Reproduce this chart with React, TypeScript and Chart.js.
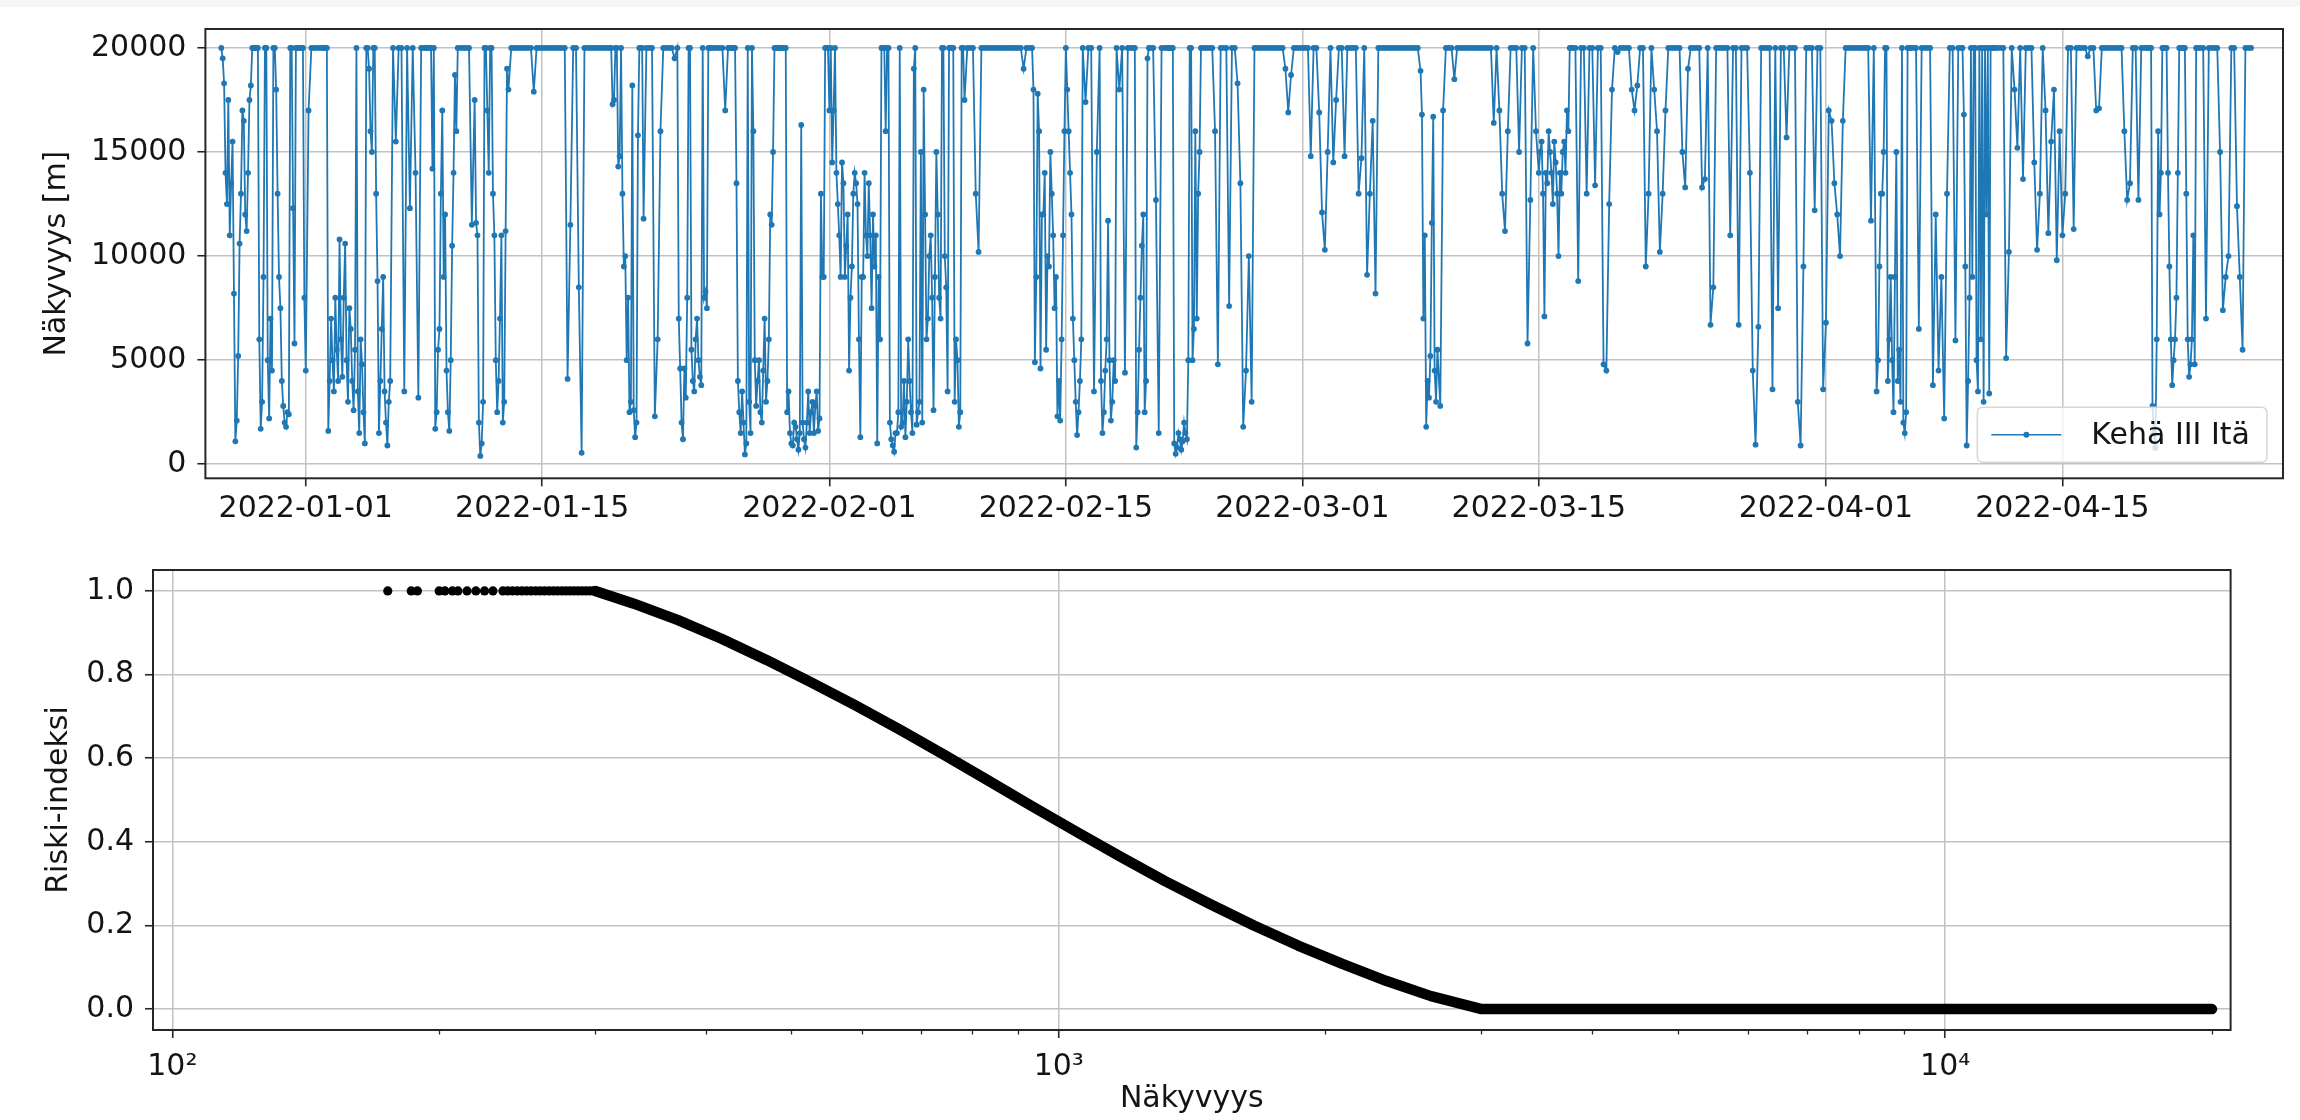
import React, { useEffect, useRef } from "react";
import { Chart, registerables } from "chart.js";

Chart.register(...registerables);

// ---------- top chart data ----------
// One inner list per day, starting 2021-12-27 (UTC). A day with 6 readings is sampled
// every 4 h, a day with 12 readings every 2 h (the last, partial day every 4 h).
const SERIES_LABEL = "Kehä III Itä";
const SERIES_START = "2021-12-27T00:00:00Z";

const visDec = [
  [20000, 19500, 18300, 14000, 12500, 17500, 11000, 13500, 15500, 8200, 1100, 2100],
  [5200, 10600, 13000, 17000, 16500, 12000, 11200, 14000, 17500, 18200, 20000, 20000],
  [20000, 20000, 20000, 6000, 1700, 3000, 9000, 20000, 20000, 5000, 2200, 7000],
  [4500, 20000, 20000, 18000, 13000, 9000, 7500, 4000, 2800, 2000, 1800, 2500],
  [2400, 20000, 20000, 12300, 5800, 20000, 20000, 20000, 20000, 20000, 20000, 8000],
];

const visJan = [
  [4500, 17000, 20000, 20000, 20000, 20000],
  [20000, 20000, 20000, 20000, 1600, 4000, 7000, 5000, 3500, 8000, 5500, 4000],
  [10800, 6000, 4200, 8000, 10600, 5000, 3000, 7500, 6500, 4000, 2600, 5500],
  [20000, 3500, 1500, 6000, 4800, 2500, 1000, 20000, 20000, 19000, 16000, 15000],
  [20000, 20000, 13000, 8800, 1500, 4000, 6500, 9000, 3500, 2000, 900, 3000],
  [4000, 20000, 15500, 20000, 20000, 3500],
  [20000, 12300, 20000, 14000, 3200, 20000],
  [20000, 20000, 20000, 20000, 20000, 20000, 14200, 20000, 1700, 2500, 5500, 6500],
  [13000, 17000, 9000, 12000, 4500, 2500, 1600, 5000, 10500, 14000, 18700, 16000],
  [20000, 20000, 20000, 20000, 20000, 11500],
  [17500, 11600, 11000, 2000, 400, 1000, 3000, 20000, 20000, 17000, 14000, 20000],
  [20000, 13000, 11000, 5000, 2500, 4000, 7000, 11000, 2000, 3000, 11200, 19000],
  [18000, 20000, 20000, 20000, 20000, 20000],
  [20000, 20000, 20000, 17900, 20000, 20000],
  [20000, 20000, 20000, 20000, 20000, 20000],
  [20000, 20000, 20000, 4100, 11500, 20000],
  [20000, 8500, 550, 20000, 20000, 20000],
  [20000, 20000, 20000, 20000, 20000, 20000],
  [20000, 20000, 17300, 17500, 20000, 20000, 14300, 14800, 20000, 13000, 9500, 10000],
  [5000, 8000, 2500, 3000, 18200, 2600, 1300, 2000, 15800, 20000, 20000, 20000],
  [11800, 20000, 20000, 20000, 2300, 6000],
  [16000, 20000, 20000, 20000, 20000, 19500],
  [20000, 7000, 4600, 2000, 1200, 4600, 3200, 8000, 20000, 20000, 5500, 4000],
  [3500, 6000, 7000, 5000, 4200, 3800, 20000, 8000, 8300, 7500, 20000, 20000],
  [20000, 20000, 20000, 20000, 20000, 17000],
  [20000, 20000, 20000, 20000, 20000, 20000, 13500, 4000, 2500, 1500, 3500, 2000],
  [470, 1000, 20000, 3000, 1500, 20000, 16000, 5000, 2800, 4000, 5000, 2500],
  [2000, 4500, 7000, 3000, 4000, 6000, 12000, 11500, 15000, 20000, 20000, 20000],
  [20000, 20000, 20000, 20000, 20000, 20000, 2500, 3500, 1500, 1000, 900, 2000],
  [1800, 1200, 700, 1500, 16300, 2000, 1200, 800, 2000, 3500, 1500, 2500],
  [3000, 1500, 2800, 3500, 1600, 2200, 13000, 9000, 9000, 20000, 20000, 20000],
];

const visFeb = [
  [17000, 20000, 14500, 17000, 20000, 14000, 12500, 11000, 9000, 14500, 13500, 9000],
  [10500, 12000, 4500, 8000, 9500, 13000, 14000, 13500, 12500, 6000, 1300, 9000],
  [9000, 14000, 11000, 10000, 13500, 11000, 7500, 12000, 9500, 11000, 1000, 9000],
  [6000, 20000, 20000, 20000, 16000, 20000, 20000, 2000, 1200, 900, 600, 1500],
  [1500, 2500, 20000, 1800, 2000, 4000, 1300, 3000, 6000, 4000, 2500, 1500],
  [19000, 20000, 1900, 2500, 3000, 15000, 2000, 18000, 12000, 6000, 7000, 10000],
  [11000, 8000, 2600, 9000, 15000, 12000, 8000, 7000, 20000, 20000, 10000, 8500],
  [3500, 20000, 20000, 20000, 20000, 3000, 6000, 5000, 1800, 2500, 20000, 20000],
  [17500, 20000, 20000, 20000, 13000, 10200],
  [20000, 20000, 20000, 20000, 20000, 20000],
  [20000, 20000, 20000, 20000, 20000, 20000],
  [20000, 20000, 20000, 19000, 20000, 20000],
  [20000, 18000, 4900, 9000, 17800, 16000, 4600, 12000, 12000, 14000, 5500, 10000],
  [9500, 15000, 13000, 11000, 7500, 9000, 2300, 4000, 2100, 6000, 11000, 16000],
  [20000, 18000, 16000, 14000, 12000, 7000, 5000, 3000, 1400, 2500, 4000, 6000],
  [20000, 17400, 20000, 20000, 3500, 15000],
  [20000, 4000, 1500, 2500, 4500, 6000, 11700, 5000, 2100, 3000, 5000, 4000],
  [20000, 18000, 20000, 4400, 20000, 20000],
  [20000, 20000, 800, 2500, 5500, 8000, 10500, 12000, 2500, 4000, 19500, 20000],
  [20000, 20000, 12700, 1500, 20000, 20000],
  [20000, 20000, 20000, 20000, 20000, 1000, 500, 800, 1500, 1200, 700, 1100],
  [2000, 1500, 1200, 5000, 20000, 20000, 5000, 6500, 16000, 7000, 13000, 15000],
  [20000, 20000, 20000, 20000, 20000, 16000],
  [4800, 20000, 20000, 20000, 7600, 20000],
  [20000, 18300, 13500, 1800, 4500, 10000],
  [3000, 20000, 20000, 20000, 20000, 20000],
  [20000, 20000, 20000, 20000, 20000, 20000],
  [19000, 16900, 18700, 20000, 20000, 20000],
];

const visMar = [
  [20000, 20000, 20000, 14800, 20000, 20000],
  [16900, 12100, 10300, 15000, 20000, 14500],
  [17500, 20000, 20000, 14800, 20000, 20000],
  [20000, 20000, 13000, 14700, 20000, 9100],
  [13000, 16500, 8200, 20000, 20000, 20000],
  [20000, 20000, 20000, 20000, 20000, 20000],
  [20000, 20000, 20000, 20000, 20000, 20000],
  [18900, 16800, 7000, 11000, 1800, 4000, 3200, 5200, 11600, 16700, 4500, 3000],
  [5500, 2800, 17000, 20000, 20000, 20000],
  [18500, 20000, 20000, 20000, 20000, 20000],
  [20000, 20000, 20000, 20000, 20000, 20000],
  [20000, 20000, 16400, 20000, 17000, 13000],
  [11200, 16000, 20000, 20000, 20000, 15000],
  [20000, 20000, 5800, 12700, 20000, 16000],
  [14000, 15000, 15500, 13000, 7100, 14000, 13500, 16000, 15000, 14000, 12500, 15500],
  [14500, 13000, 10000, 14000, 13000, 15000, 15500, 14000, 17000, 16000, 20000, 20000],
  [20000, 20000, 8800, 20000, 20000, 13000],
  [20000, 20000, 13400, 20000, 20000, 4800],
  [4500, 12500, 18000, 20000, 19800, 20000],
  [20000, 20000, 20000, 18000, 17000, 18200],
  [20000, 20000, 9500, 13000, 20000, 18000],
  [16000, 10200, 13000, 17000, 20000, 20000],
  [20000, 20000, 20000, 15000, 13300, 19000],
  [20000, 20000, 20000, 20000, 13300, 13700],
  [20000, 6700, 8500, 20000, 20000, 20000],
  [20000, 20000, 11000, 20000, 20000, 6700],
  [20000, 20000, 20000, 14000, 4500, 940],
  [6600, 20000, 20000, 20000, 20000, 3600],
  [20000, 7500, 20000, 20000, 15700, 20000],
  [20000, 20000, 3000, 900, 9500, 20000],
  [20000, 20000, 12200, 20000, 20000, 3600],
];

const visApr = [
  [6800, 17000, 16500, 13500, 12000, 10000],
  [16500, 20000, 20000, 20000, 20000, 20000],
  [20000, 20000, 20000, 20000, 11700, 20000],
  [3500, 5000, 9500, 13000, 13000, 15000, 20000, 20000, 4000, 6000, 9000, 5000],
  [2500, 9000, 15000, 4000, 5500, 3000, 20000, 2000, 1500, 2500, 20000, 20000],
  [20000, 20000, 20000, 6500, 20000, 20000],
  [20000, 20000, 3800, 12000, 4500, 9000],
  [2200, 13000, 20000, 20000, 5950, 20000],
  [20000, 20000, 16800, 9500, 900, 4000, 8000, 20000, 9000, 20000, 20000, 5000],
  [3500, 20000, 6000, 20000, 3000, 20000, 12000, 20000, 3400, 20000, 20000, 20000],
  [20000, 20000, 20000, 20000, 5100, 10200],
  [20000, 18000, 15200, 20000, 13700, 20000],
  [20000, 20000, 14500, 10300, 13000, 20000],
  [17000, 11100, 15500, 18000, 9800, 16000],
  [11000, 13000, 20000, 20000, 11300, 20000],
  [20000, 20000, 20000, 19600, 20000, 20000],
  [17000, 17100, 20000, 20000, 20000, 20000],
  [20000, 20000, 20000, 20000, 16000, 12700],
  [13500, 20000, 20000, 12700, 20000, 20000],
  [20000, 20000, 20000, 20000, 2800, 1500, 780, 6000, 16000, 12000, 14000, 20000],
  [20000, 20000, 20000, 14000, 9500, 6000, 3800, 5000, 6000, 8000, 14000, 20000],
  [20000, 20000, 20000, 20000, 13000, 6000, 4200, 4800, 6000, 11000, 4800, 20000],
  [20000, 20000, 20000, 7000, 20000, 20000],
  [20000, 20000, 15000, 7400, 9000, 10000],
  [20000, 20000, 12400, 9000, 5500, 20000],
  [20000, 20000],
];

const dateTickLabels = [
  "2022-01-01", "2022-01-15", "2022-02-01", "2022-02-15",
  "2022-03-01", "2022-03-15", "2022-04-01", "2022-04-15",
];
const dateAxisRange = ["2021-12-26T01:25:00Z", "2022-04-28T01:25:00Z"];
const visTicks = [0, 5000, 10000, 15000, 20000];
const visAxisRange = [-675, 20910];

// ---------- bottom chart data (risk index vs visibility) ----------
const riskFlatVis = [
  175, 186, 189, 200, 203, 207, 210, 215, 220, 225, 230, 236, 239, 242, 245,
  248, 251, 254, 257, 260, 263, 266, 269, 272, 275, 278, 281, 284, 287, 290,
  293, 296, 299,
];
const riskFlatVal = riskFlatVis.map(() => 1.0);

const riskCurveVis = [
  300, 331, 372, 417, 468, 525, 589, 661, 741, 832, 933, 1047, 1175, 1318,
  1479, 1660, 1862, 2089, 2344, 2630, 3000,
  3500, 4500, 6000, 8000, 10000, 13000, 16000, 20000,
];
const riskCurveVal = [
  1.0, 0.97, 0.93, 0.885, 0.835, 0.782, 0.727, 0.669, 0.609, 0.547, 0.485, 0.424, 0.364, 0.306,
  0.252, 0.2, 0.152, 0.108, 0.067, 0.031, 0.0,
  0.0, 0.0, 0.0, 0.0, 0.0, 0.0, 0.0, 0.0,
];

const logMajorTicks = [100, 1000, 10000];
const logMinorTicks = [
  200, 300, 400, 500, 600, 700, 800, 900,
  2000, 3000, 4000, 5000, 6000, 7000, 8000, 9000,
  20000,
];
const logAxisRange = [95.1, 20990];
const riskTicks = [0, 0.2, 0.4, 0.6, 0.8, 1.0];
const riskAxisRange = [-0.05, 1.05];

// ---------- styles ----------
const FONT_FAMILY = "'DejaVu Sans', 'Liberation Sans', sans-serif";
const FONT_SIZE = 30;
const TEXT = "#141414";
const GRID = "#c2c2c2";
const FRAME = "#262626";
const BLUE = "#1f77b4";
const SUP: Record<string, string> = { "0": "⁰", "1": "¹", "2": "²", "3": "³", "4": "⁴", "5": "⁵" };

const framePlugin = {
  id: "frame",
  afterDraw(chart: any) {
    const { ctx, chartArea: a } = chart;
    ctx.save();
    ctx.strokeStyle = FRAME;
    ctx.lineWidth = 2;
    ctx.strokeRect(a.left, a.top, a.right - a.left, a.bottom - a.top);
    ctx.restore();
  },
};

const insideLegendPlugin = {
  id: "insideLegend",
  afterDatasetsDraw(chart: any) {
    const ds = chart.data.datasets[0];
    const { ctx, chartArea: a } = chart;
    ctx.save();
    ctx.font = `${FONT_SIZE}px ${FONT_FAMILY}`;
    const tw = ctx.measureText(ds.label).width;
    const padL = 14, handle = 70, gap = 30, padR = 17, h = 55;
    const w = padL + handle + gap + tw + padR;
    const x = a.right - 16 - w;
    const y = a.bottom - 16 - h;
    const r = 6;
    ctx.beginPath();
    ctx.moveTo(x + r, y);
    ctx.lineTo(x + w - r, y);
    ctx.quadraticCurveTo(x + w, y, x + w, y + r);
    ctx.lineTo(x + w, y + h - r);
    ctx.quadraticCurveTo(x + w, y + h, x + w - r, y + h);
    ctx.lineTo(x + r, y + h);
    ctx.quadraticCurveTo(x, y + h, x, y + h - r);
    ctx.lineTo(x, y + r);
    ctx.quadraticCurveTo(x, y, x + r, y);
    ctx.closePath();
    ctx.fillStyle = "rgba(255,255,255,0.8)";
    ctx.fill();
    ctx.strokeStyle = "#d6d6d6";
    ctx.lineWidth = 1.5;
    ctx.stroke();
    const cy = y + h / 2;
    ctx.strokeStyle = ds.borderColor;
    ctx.lineWidth = 1.5;
    ctx.beginPath();
    ctx.moveTo(x + padL, cy);
    ctx.lineTo(x + padL + handle, cy);
    ctx.stroke();
    ctx.fillStyle = ds.pointBackgroundColor;
    ctx.beginPath();
    ctx.arc(x + padL + handle / 2, cy, 3, 0, Math.PI * 2);
    ctx.fill();
    ctx.fillStyle = TEXT;
    ctx.textBaseline = "middle";
    ctx.textAlign = "left";
    ctx.fillText(ds.label, x + padL + handle + gap, cy + 1);
    ctx.restore();
  },
};

const font = { family: FONT_FAMILY, size: FONT_SIZE };

function makeTopConfig(): any {
  const days = [...visDec, ...visJan, ...visFeb, ...visMar, ...visApr];
  const t0 = Date.parse(SERIES_START);
  const DAY = 86400000;
  const data: { x: number; y: number }[] = [];
  days.forEach((vals, d) => {
    const step = DAY / Math.max(6, vals.length);
    vals.forEach((v, k) => data.push({ x: t0 + d * DAY + k * step, y: v }));
  });
  const tickValues = dateTickLabels.map((s) => Date.parse(s + "T00:00:00Z"));
  return {
    type: "line",
    data: {
      datasets: [
        {
          label: SERIES_LABEL,
          data,
          borderColor: BLUE,
          borderWidth: 1.8,
          pointRadius: 2.9,
          pointBorderWidth: 0,
          pointBackgroundColor: BLUE,
          pointHoverRadius: 0,
          tension: 0,
        },
      ],
    },
    options: {
      responsive: false,
      animation: false,
      events: [],
      layout: { padding: { left: 0, top: 20, right: 17, bottom: 0 } },
      plugins: { legend: { display: false }, tooltip: { enabled: false } },
      scales: {
        x: {
          type: "linear",
          bounds: "data",
          min: Date.parse(dateAxisRange[0]),
          max: Date.parse(dateAxisRange[1]),
          afterBuildTicks: (s: any) => {
            s.ticks = tickValues.map((v) => ({ value: v }));
          },
          afterFit: (s: any) => {
            s.height = 61.7;
          },
          ticks: {
            autoSkip: false,
            maxRotation: 0,
            font,
            color: TEXT,
            padding: 5,
            callback: (_v: any, i: number) => dateTickLabels[i],
          },
          grid: { color: GRID, lineWidth: 1.5, tickColor: FRAME, tickLength: 8, tickWidth: 1.6 },
          border: { display: false },
        },
        y: {
          type: "linear",
          bounds: "data",
          min: visAxisRange[0],
          max: visAxisRange[1],
          afterBuildTicks: (s: any) => {
            s.ticks = visTicks.map((v) => ({ value: v }));
          },
          afterFit: (s: any) => {
            s.width = 205.4;
          },
          ticks: { font, color: TEXT, padding: 11, callback: (v: any) => String(v) },
          grid: { color: GRID, lineWidth: 1.5, tickColor: FRAME, tickLength: 8, tickWidth: 1.6 },
          border: { display: false },
          title: {
            display: true,
            text: "Näkyvyys [m]",
            font,
            color: TEXT,
            padding: { top: 39, bottom: 0 },
          },
        },
      },
    },
    plugins: [insideLegendPlugin, framePlugin],
  };
}

function makeBottomConfig(): any {
  const flat = riskFlatVis.map((v, i) => ({ x: v, y: riskFlatVal[i] }));
  const curve = riskCurveVis.map((v, i) => ({ x: v, y: riskCurveVal[i] }));
  return {
    type: "scatter",
    data: {
      datasets: [
        {
          label: "Riski-indeksi (1.0)",
          data: flat,
          showLine: false,
          pointRadius: 4.6,
          pointBorderWidth: 0,
          pointBackgroundColor: "#000000",
          pointHoverRadius: 0,
        },
        {
          label: "Riski-indeksi",
          data: curve,
          showLine: true,
          borderColor: "#000000",
          borderWidth: 10.5,
          borderCapStyle: "round",
          borderJoinStyle: "round",
          pointRadius: 0,
          pointHoverRadius: 0,
        },
      ],
    },
    options: {
      responsive: false,
      animation: false,
      events: [],
      layout: { padding: { left: 0, top: 30, right: 69.4, bottom: 0 } },
      plugins: { legend: { display: false }, tooltip: { enabled: false } },
      scales: {
        x: {
          type: "logarithmic",
          position: "bottom",
          weight: 1,
          bounds: "data",
          min: logAxisRange[0],
          max: logAxisRange[1],
          afterBuildTicks: (s: any) => {
            s.ticks = logMajorTicks.map((v) => ({ value: v, major: true }));
          },
          afterFit: (s: any) => {
            s.height = 90;
          },
          ticks: {
            autoSkip: false,
            maxRotation: 0,
            font,
            color: TEXT,
            padding: 11,
            callback: (v: any) => {
              const e = String(Math.round(Math.log10(v)));
              return "10" + e.split("").map((c) => SUP[c]).join("");
            },
          },
          grid: { color: GRID, lineWidth: 1.5, tickColor: FRAME, tickLength: 8, tickWidth: 1.6 },
          border: { display: false },
          title: {
            display: true,
            text: "Näkyvyys",
            font,
            color: TEXT,
            padding: { top: 0, bottom: 3 },
          },
        },
        xMinor: {
          type: "logarithmic",
          position: "bottom",
          weight: 0,
          bounds: "data",
          min: logAxisRange[0],
          max: logAxisRange[1],
          afterBuildTicks: (s: any) => {
            s.ticks = logMinorTicks.map((v) => ({ value: v }));
          },
          afterFit: (s: any) => {
            s.height = 0;
          },
          ticks: { display: false, autoSkip: false },
          grid: {
            drawOnChartArea: false,
            drawTicks: true,
            tickColor: FRAME,
            tickLength: 4.5,
            tickWidth: 1.3,
          },
          border: { display: false },
        },
        y: {
          type: "linear",
          bounds: "data",
          min: riskAxisRange[0],
          max: riskAxisRange[1],
          afterBuildTicks: (s: any) => {
            s.ticks = riskTicks.map((v) => ({ value: v }));
          },
          afterFit: (s: any) => {
            s.width = 153;
          },
          ticks: { font, color: TEXT, padding: 11, callback: (v: any) => Number(v).toFixed(1) },
          grid: { color: GRID, lineWidth: 1.5, tickColor: FRAME, tickLength: 8, tickWidth: 1.6 },
          border: { display: false },
          title: {
            display: true,
            text: "Riski-indeksi",
            font,
            color: TEXT,
            padding: { top: 41, bottom: 0 },
          },
        },
      },
    },
    plugins: [framePlugin],
  };
}

export default function App() {
  const topRef = useRef<HTMLCanvasElement | null>(null);
  const bottomRef = useRef<HTMLCanvasElement | null>(null);

  useEffect(() => {
    const top = new Chart(topRef.current as HTMLCanvasElement, makeTopConfig());
    const bottom = new Chart(bottomRef.current as HTMLCanvasElement, makeBottomConfig());
    return () => {
      top.destroy();
      bottom.destroy();
    };
  }, []);

  return (
    <div
      style={{
        position: "absolute",
        left: 0,
        top: 0,
        width: 2300,
        height: 1120,
        background: "#ffffff",
        overflow: "hidden",
      }}
    >
      <div style={{ position: "absolute", left: 0, top: 0, width: 2300, height: 7, background: "#f5f5f5" }} />
      <canvas
        ref={topRef}
        width={2300}
        height={540}
        style={{ position: "absolute", left: 0, top: 0, width: 2300, height: 540, display: "block" }}
      />
      <canvas
        ref={bottomRef}
        width={2300}
        height={580}
        style={{ position: "absolute", left: 0, top: 540, width: 2300, height: 580, display: "block" }}
      />
    </div>
  );
}
